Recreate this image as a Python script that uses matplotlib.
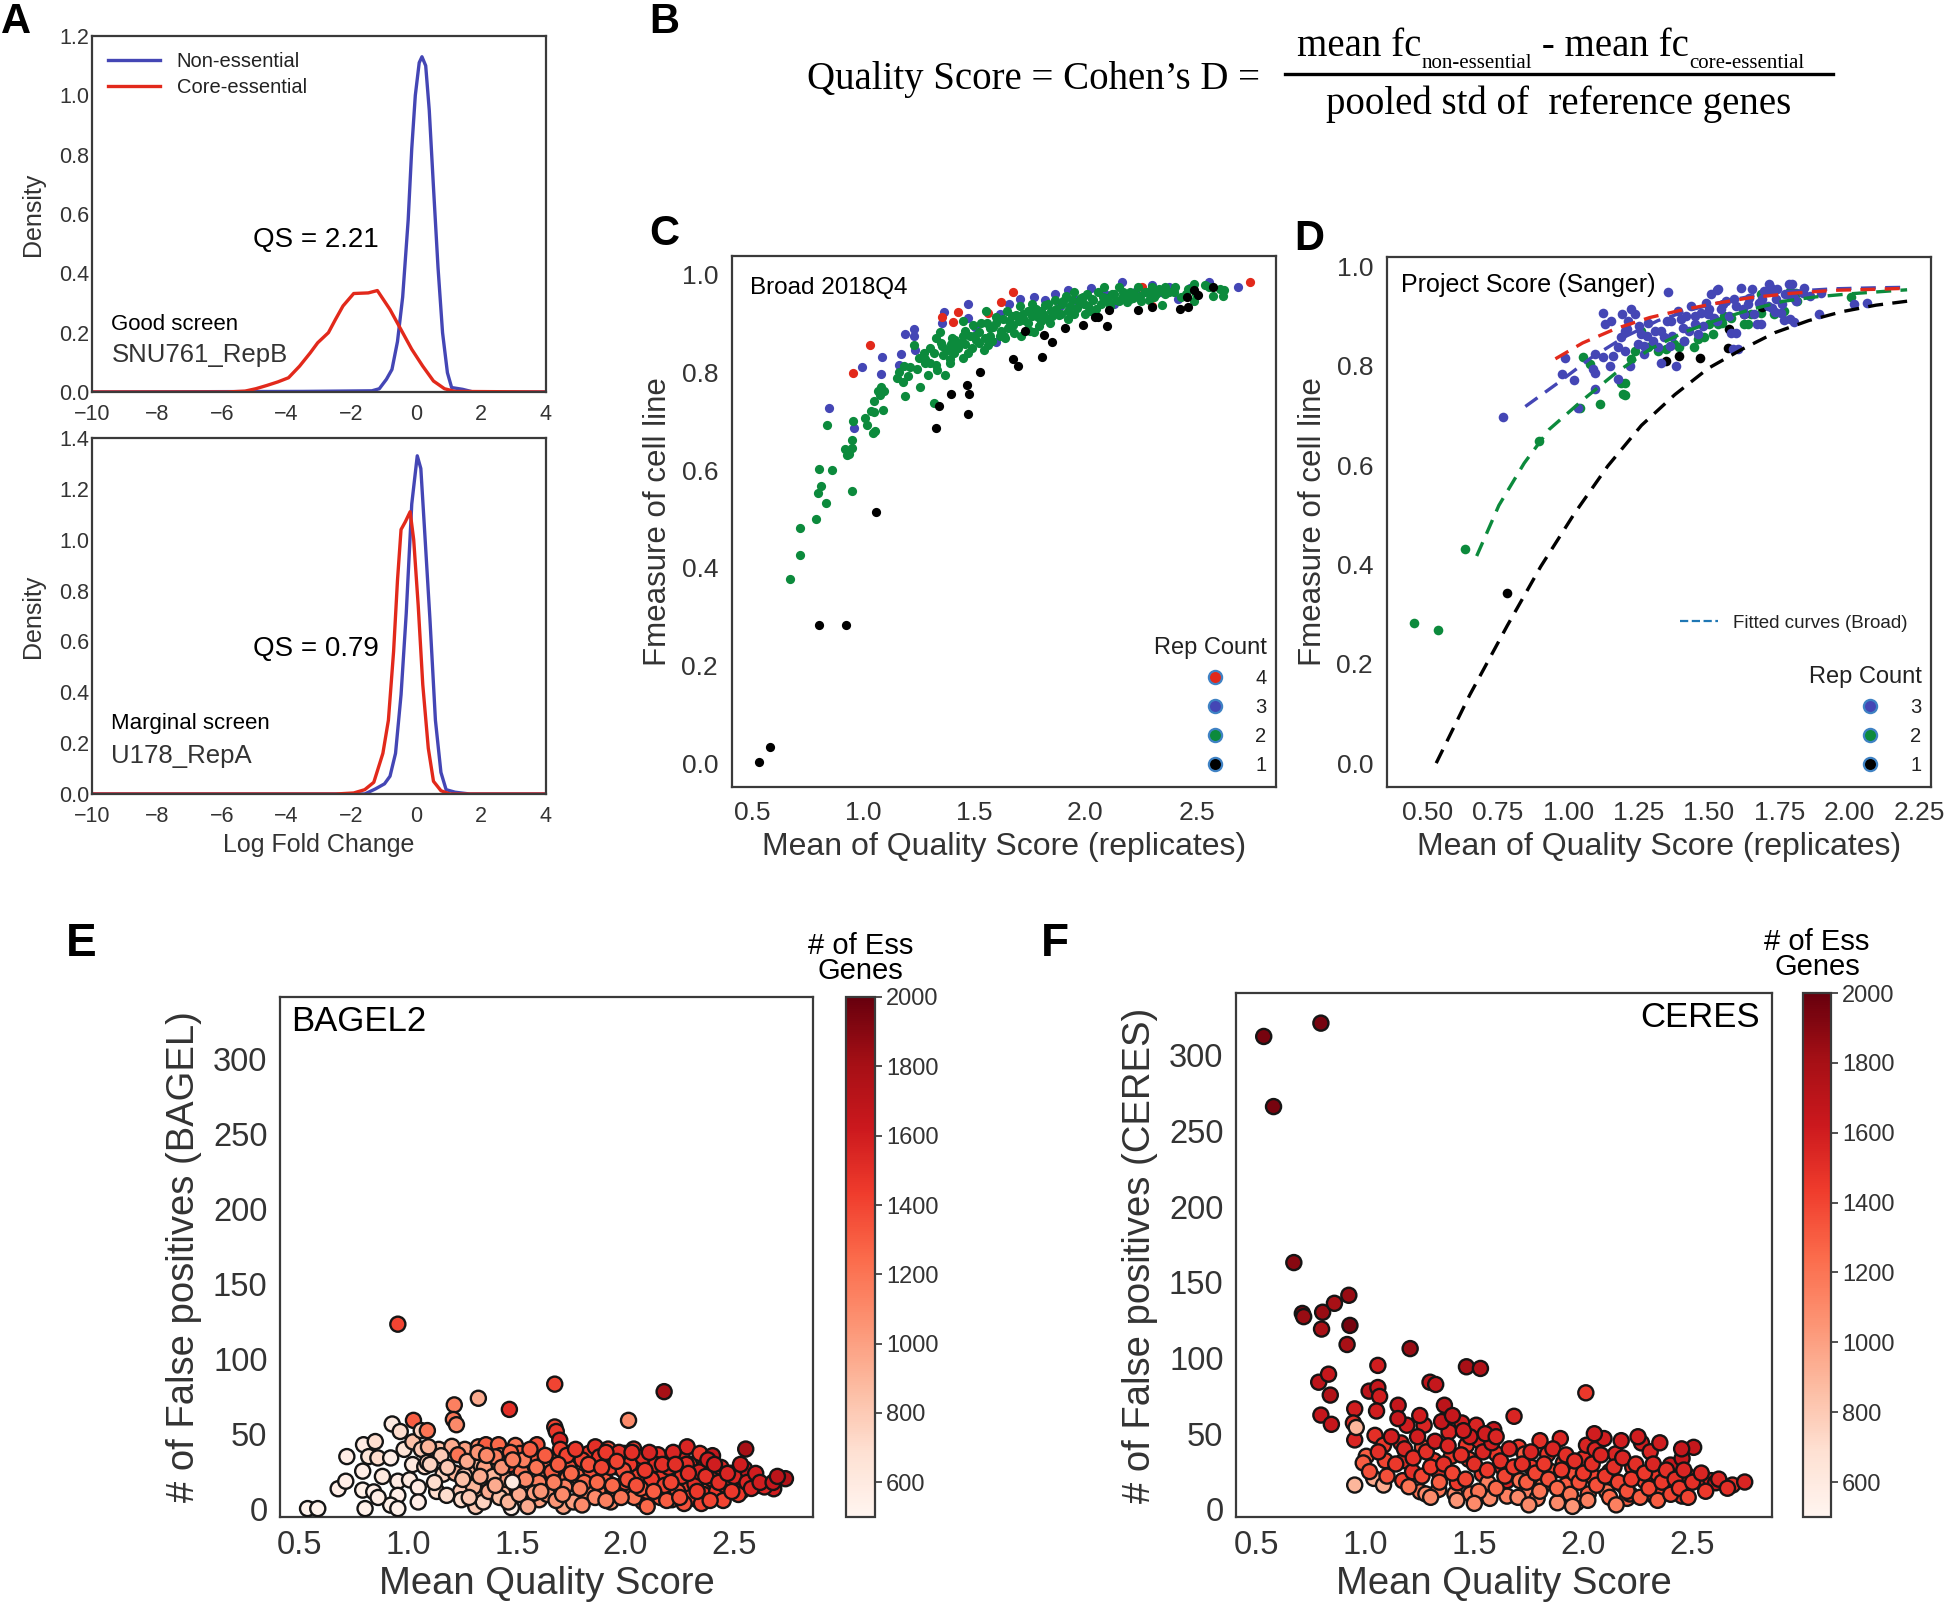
import matplotlib
matplotlib.use('Agg')
import matplotlib.pyplot as plt
from matplotlib.lines import Line2D
from matplotlib.colors import Normalize
import matplotlib.cm as cm

# ---------------- DATA ----------------
# Panel A: density curves
A1_blue_x = [-10, -3.5, -1.37, -1.14, -0.92, -0.75, -0.58, -0.42, -0.25, -0.14, -0.03, 0.09, 0.175, 0.29, 0.40, 0.53, 0.67, 0.81, 0.96, 1.09, 1.43, 1.76, 4]
A1_blue_y = [0, 0.002, 0.004, 0.011, 0.043, 0.076, 0.17, 0.32, 0.58, 0.82, 1.0, 1.11, 1.13, 1.10, 0.95, 0.69, 0.42, 0.2, 0.065, 0.015, 0.009, 0.0, 0]
A1_red_x = [-10, -5.84, -5.28, -4.95, -4.61, -4.27, -3.94, -3.60, -3.27, -3.04, -2.71, -2.49, -2.26, -1.93, -1.48, -1.20, -0.81, -0.47, -0.14, 0.20, 0.53, 0.87, 1.20, 4]
A1_red_y = [0, 0, 0.003, 0.011, 0.022, 0.034, 0.048, 0.087, 0.132, 0.166, 0.2, 0.245, 0.29, 0.332, 0.334, 0.342, 0.278, 0.21, 0.144, 0.087, 0.037, 0.011, 0.002, 0]
A2_blue_x = [-10, -1.59, -1.26, -0.98, -0.81, -0.64, -0.47, -0.31, -0.14, 0.03, 0.14, 0.25, 0.42, 0.59, 0.76, 0.92, 1.20, 1.65, 4]
A2_blue_y = [0, 0, 0.02, 0.04, 0.07, 0.16, 0.39, 0.71, 1.14, 1.33, 1.28, 1.05, 0.69, 0.29, 0.085, 0.017, 0.007, 0, 0]
A2_red_x = [-10, -2.49, -1.93, -1.59, -1.31, -1.03, -0.86, -0.70, -0.58, -0.47, -0.34, -0.19, -0.08, 0.06, 0.20, 0.37, 0.53, 0.76, 1.04, 4]
A2_red_y = [0, 0, 0.004, 0.017, 0.046, 0.16, 0.29, 0.56, 0.84, 1.04, 1.07, 1.11, 1.0, 0.74, 0.43, 0.18, 0.05, 0.013, 0, 0]

# Panel C: Broad 2018Q4 (x = mean QS, y = Fmeasure) by replicate count
C_rep4 = [(2.743, 0.984), (1.675, 0.965), (1.622, 0.944), (1.425, 0.923), (1.404, 0.902), (1.357, 0.914),
          (1.029, 0.857), (0.955, 0.799), (1.56, 0.922), (2.253, 0.974), (2.30, 0.935)]
C_rep3 = [(0.847, 0.728), (0.961, 0.687), (0.995, 0.812), (1.084, 0.832), (1.08, 0.797), (1.169, 0.838),
          (1.163, 0.816), (1.23, 0.888), (1.23, 0.875), (1.235, 0.845), (1.363, 0.923), (1.354, 0.901),
          (1.471, 0.94), (1.471, 0.912), (1.60, 0.863), (1.704, 0.951), (1.77, 0.954), (1.865, 0.961),
          (1.922, 0.968), (2.026, 0.973), (2.164, 0.984), (2.30, 0.978), (2.415, 0.95), (2.472, 0.972),
          (2.557, 0.984), (2.686, 0.974), (2.09, 0.961), (2.223, 0.965), (1.818, 0.948), (1.656, 0.94),
          (1.618, 0.92), (1.505, 0.892), (1.96, 0.948), (2.34, 0.965), (2.13, 0.94), (1.19, 0.879),
          (2.375, 0.974), (1.885, 0.935), (1.76, 0.926)]
C_rep2 = [(0.673, 0.378), (0.714, 0.427), (0.718, 0.481), (0.788, 0.50), (0.80, 0.603), (0.811, 0.568),
          (0.798, 0.554), (0.834, 0.532), (0.858, 0.60), (0.836, 0.692), (0.917, 0.644), (0.936, 0.633),
          (0.95, 0.646), (0.95, 0.661), (0.951, 0.557), (0.928, 0.63), (0.955, 0.70), (1.008, 0.707),
          (1.018, 0.693), (1.036, 0.721), (1.046, 0.676), (1.055, 0.68), (1.05, 0.719), (1.05, 0.742),
          (1.065, 0.762), (1.078, 0.754), (1.088, 0.724), (1.093, 0.761), (1.082, 0.771), (1.154, 0.788),
          (1.163, 0.801), (1.182, 0.814), (1.18, 0.78), (1.188, 0.751), (1.20, 0.793), (1.21, 0.81),
          (1.23, 0.855), (1.243, 0.806), (1.258, 0.771), (1.272, 0.84), (1.277, 0.827), (1.29, 0.795),
          (1.30, 0.819), (1.319, 0.737), (1.327, 0.87), (1.331, 0.804), (1.344, 0.883), (1.354, 0.853),
          (1.368, 0.794), (1.376, 0.845), (1.39, 0.827), (1.394, 0.858), (1.413, 0.866), (1.429, 0.849),
          (1.448, 0.875), (1.448, 0.905), (1.457, 0.858), (1.482, 0.875), (1.495, 0.896), (1.508, 0.866),
          (1.523, 0.883), (1.542, 0.845), (1.552, 0.926), (1.558, 0.901), (1.571, 0.875), (1.584, 0.892),
          (1.60, 0.914), (1.616, 0.875), (1.634, 0.875), (1.647, 0.926), (1.656, 0.905), (1.675, 0.896),
          (1.69, 0.918), (1.704, 0.935), (1.723, 0.907), (1.742, 0.926), (1.76, 0.94), (1.77, 0.883),
          (1.785, 0.914), (1.799, 0.926), (1.818, 0.937), (1.827, 0.91), (1.846, 0.926), (1.865, 0.948),
          (1.88, 0.918), (1.893, 0.94), (1.912, 0.957), (1.922, 0.926), (1.941, 0.948), (1.95, 0.965),
          (1.964, 0.931), (1.979, 0.952), (1.994, 0.94), (2.007, 0.961), (2.02, 0.926), (2.036, 0.948),
          (2.055, 0.965), (2.07, 0.94), (2.083, 0.974), (2.093, 0.952), (2.112, 0.935), (2.127, 0.961),
          (2.14, 0.948), (2.153, 0.974), (2.168, 0.957), (2.187, 0.944), (2.202, 0.965), (2.216, 0.952),
          (2.235, 0.974), (2.248, 0.957), (2.267, 0.965), (2.286, 0.948), (2.30, 0.974), (2.32, 0.961),
          (2.343, 0.937), (2.358, 0.974), (2.377, 0.965), (2.405, 0.974), (2.453, 0.961), (2.487, 0.98),
          (2.49, 0.946), (2.538, 0.979), (2.557, 0.974), (2.576, 0.957), (2.608, 0.971), (2.62, 0.957),
          (2.622, 0.969),
          (1.32, 0.84), (1.35, 0.86), (1.38, 0.845), (1.40, 0.87), (1.42, 0.85), (1.44, 0.86), (1.46, 0.885),
          (1.47, 0.84), (1.50, 0.875), (1.52, 0.86), (1.53, 0.90), (1.55, 0.87), (1.57, 0.89), (1.58, 0.865),
          (1.60, 0.90), (1.62, 0.885), (1.63, 0.91), (1.65, 0.89), (1.67, 0.915), (1.68, 0.88), (1.70, 0.905),
          (1.72, 0.92), (1.74, 0.90), (1.76, 0.915), (1.78, 0.93), (1.80, 0.905), (1.81, 0.92), (1.83, 0.94),
          (1.85, 0.915), (1.87, 0.93), (1.89, 0.92), (1.90, 0.945), (1.93, 0.935), (1.95, 0.92), (1.97, 0.945),
          (1.99, 0.955), (2.01, 0.935), (2.03, 0.95), (2.05, 0.93), (2.08, 0.955), (2.10, 0.945), (2.12, 0.96),
          (2.15, 0.945), (2.17, 0.965), (2.20, 0.95), (2.22, 0.96), (2.25, 0.945), (2.28, 0.965), (2.31, 0.955),
          (2.33, 0.97), (2.36, 0.96), (2.40, 0.965), (2.43, 0.955), (2.46, 0.97), (2.50, 0.96), (1.25, 0.83),
          (1.28, 0.82), (1.30, 0.85), (1.33, 0.815), (1.36, 0.835), (1.39, 0.82), (1.41, 0.84), (1.45, 0.83),
          (1.49, 0.85), (1.56, 0.855), (1.64, 0.87), (1.75, 0.885), (1.84, 0.90), (1.92, 0.91), (2.00, 0.92),
          (1.71, 0.875), (1.79, 0.895)]
C_rep1 = [(0.532, 0.004), (0.58, 0.033), (0.80, 0.283), (0.923, 0.283), (1.059, 0.514), (1.327, 0.687),
          (1.34, 0.732), (1.394, 0.756), (1.467, 0.775), (1.478, 0.756), (1.474, 0.714), (1.527, 0.80),
          (1.675, 0.828), (1.697, 0.813), (1.804, 0.832), (1.814, 0.877), (1.85, 0.863), (1.907, 0.89),
          (1.988, 0.896), (2.045, 0.914), (2.055, 0.913), (2.098, 0.894), (2.106, 0.927), (2.235, 0.928),
          (2.30, 0.934), (2.428, 0.93), (2.456, 0.954), (2.462, 0.933), (2.487, 0.968), (2.506, 0.959),
          (2.576, 0.974), (1.73, 0.885)]

# Panel D: Project Score (Sanger)
D_rep3 = [(0.767, 0.696), (0.989, 0.815), (0.977, 0.783), (1.021, 0.771), (1.095, 0.823), (1.095, 0.785),
          (1.089, 0.793), (1.148, 0.800), (1.122, 0.817), (1.095, 0.753), (1.036, 0.716), (1.178, 0.773),
          (1.13, 0.884), (1.124, 0.907), (1.177, 0.837), (1.189, 0.857), (1.20, 0.870), (1.212, 0.891),
          (1.224, 0.914), (1.238, 0.904), (1.248, 0.843), (1.26, 0.863), (1.269, 0.823), (1.283, 0.887),
          (1.301, 0.850), (1.319, 0.837), (1.328, 0.806), (1.342, 0.857), (1.354, 0.948), (1.366, 0.890),
          (1.384, 0.800), (1.39, 0.911), (1.407, 0.877), (1.419, 0.901), (1.437, 0.921), (1.449, 0.884),
          (1.46, 0.863), (1.472, 0.907), (1.49, 0.927), (1.507, 0.944), (1.519, 0.897), (1.531, 0.954),
          (1.542, 0.914), (1.56, 0.931), (1.578, 0.867), (1.584, 0.833), (1.596, 0.921), (1.613, 0.957),
          (1.625, 0.904), (1.643, 0.937), (1.654, 0.954), (1.672, 0.884), (1.678, 0.927), (1.696, 0.951),
          (1.713, 0.964), (1.725, 0.917), (1.743, 0.954), (1.755, 0.907), (1.772, 0.944), (1.784, 0.964),
          (1.79, 0.894), (1.802, 0.937), (1.893, 0.905), (2.016, 0.925), (2.064, 0.926), (1.84, 0.956),
          (1.796, 0.964), (1.721, 0.956), (1.766, 0.892), (1.833, 0.947), (1.90, 0.947), (1.803, 0.888),
          (1.684, 0.884), (1.736, 0.909), (1.602, 0.833), (1.597, 0.867), (1.498, 0.905), (1.528, 0.952),
          (1.25, 0.88), (1.28, 0.86), (1.31, 0.87), (1.35, 0.89), (1.37, 0.86), (1.40, 0.895), (1.43, 0.87),
          (1.45, 0.90), (1.48, 0.88), (1.50, 0.915), (1.53, 0.89), (1.55, 0.925), (1.57, 0.90), (1.59, 0.935),
          (1.62, 0.915), (1.64, 0.925), (1.66, 0.905), (1.69, 0.935), (1.71, 0.92), (1.74, 0.935), (1.76, 0.925),
          (1.78, 0.945), (1.81, 0.93), (1.86, 0.94), (1.16, 0.82), (1.20, 0.83), (1.22, 0.80), (1.27, 0.84),
          (1.33, 0.87), (1.36, 0.84), (1.41, 0.85), (1.15, 0.89), (1.19, 0.905), (1.21, 0.875)]
D_rep2 = [(0.451, 0.283), (0.537, 0.269), (0.634, 0.432), (0.896, 0.649), (1.042, 0.714), (1.111, 0.723),
          (1.053, 0.817), (1.077, 0.803), (1.187, 0.766), (1.193, 0.743), (1.224, 0.813), (1.236, 0.830),
          (1.26, 0.870), (1.283, 0.837), (1.319, 0.830), (1.348, 0.833), (1.377, 0.843), (1.395, 0.837),
          (1.413, 0.850), (1.448, 0.837), (1.46, 0.854), (1.483, 0.857), (1.501, 0.884), (1.531, 0.884),
          (1.548, 0.887), (1.578, 0.897), (1.625, 0.884), (1.649, 0.904), (1.684, 0.907), (1.731, 0.904),
          (1.766, 0.911), (1.79, 0.951), (1.684, 0.944), (1.554, 0.901), (1.513, 0.863), (1.813, 0.931),
          (1.203, 0.741), (1.20, 0.765), (1.64, 0.884), (1.543, 0.888), (2.004, 0.939), (1.81, 0.947)]
D_rep1 = [(0.783, 0.343), (1.349, 0.809), (1.394, 0.82), (1.468, 0.816), (1.568, 0.835), (1.572, 0.875),
          (1.625, 0.905), (1.69, 0.918)]
# fitted curves (Broad), one per replicate count
D_fit1_x = [0.53, 0.649, 0.783, 0.902, 1.021, 1.14, 1.26, 1.379, 1.498, 1.617, 1.736, 1.855, 1.974, 2.094, 2.205]
D_fit1_y = [0.0, 0.137, 0.277, 0.396, 0.502, 0.598, 0.68, 0.742, 0.795, 0.833, 0.867, 0.891, 0.909, 0.922, 0.93]
D_fit2_x = [0.674, 0.753, 0.843, 0.932, 1.051, 1.17, 1.289, 1.409, 1.528, 1.647, 1.766, 1.885, 2.004, 2.205]
D_fit2_y = [0.417, 0.519, 0.604, 0.672, 0.731, 0.786, 0.833, 0.867, 0.892, 0.913, 0.93, 0.939, 0.945, 0.953]
D_fit3_x = [0.847, 0.962, 1.081, 1.20, 1.319, 1.438, 1.558, 1.677, 1.796, 1.945, 2.094, 2.205]
D_fit3_y = [0.718, 0.765, 0.816, 0.858, 0.891, 0.913, 0.93, 0.943, 0.95, 0.955, 0.957, 0.958]
D_fit4_x = [0.954, 1.051, 1.17, 1.289, 1.409, 1.528, 1.647, 1.796, 1.945, 2.094, 2.205]
D_fit4_y = [0.814, 0.846, 0.875, 0.897, 0.913, 0.926, 0.937, 0.946, 0.952, 0.954, 0.956]

# Panel E: BAGEL2 (mean QS, false positives, # ess genes)
E_pts = [(0.535, 0.6, 520), (0.582, 0.6, 520), (0.676, 13.8, 560), (0.711, 18.8, 560), (0.716, 35.2, 560),
         (0.793, 43.1, 580), (0.789, 25.5, 560), (0.789, 12.9, 550), (0.80, 0.6, 540), (0.84, 11.7, 560),
         (0.847, 45.2, 700), (0.817, 35.2, 650), (0.859, 34.3, 700), (0.925, 56.9, 600), (0.962, 51.9, 700),
         (0.918, 34.3, 560), (0.951, 18.8, 580), (0.951, 9.4, 560), (0.918, 2.9, 540), (0.951, 0.6, 540),
         (0.88, 22, 600), (0.86, 8, 570), (0.98, 40, 650), (1.02, 45, 850), (1.06, 40, 800), (1.14, 40, 850),
         (1.13, 12, 700), (1.24, 12, 800), (1.29, 28, 900), (1.26, 40, 1000), (1.20, 42, 950), (1.31, 2, 800),
         (0.951, 123.3, 1400), (1.019, 29.9, 600), (1.023, 59.3, 1300), (1.005, 19.7, 600), (1.045, 14.7, 580),
         (1.045, 5.0, 560), (1.059, 52.5, 750), (1.087, 52.5, 1200), (1.075, 28.5, 700), (1.092, 41.7, 900),
         (1.087, 31.4, 800), (1.15, 35.8, 800), (1.16, 23.5, 750), (1.176, 9.4, 700), (1.211, 69.6, 1150),
         (1.207, 59.9, 1200), (1.221, 56.4, 1100), (1.228, 36.4, 1200), (1.216, 24.1, 900), (1.244, 6.5, 700),
         (1.258, 22.6, 800), (1.322, 74.0, 950), (1.322, 41.7, 1100), (1.333, 29.9, 900), (1.329, 19.7, 850),
         (1.338, 10.9, 900), (1.345, 5.0, 750), (1.357, 43.1, 1300), (1.38, 31.4, 1000), (1.415, 43.1, 1250),
         (1.423, 35.8, 1050), (1.427, 22.6, 950), (1.434, 10.9, 900), (1.465, 66.6, 1500), (1.469, 29.9, 1350),
         (1.474, 1.2, 560), (1.493, 42.6, 1200), (1.514, 37.3, 1300), (1.545, 27.0, 1100),
         (1.563, 12.9, 900), (1.573, 30.8, 1150), (1.592, 43.1, 1350), (1.603, 6.5, 1000), (1.627, 22.6, 1100),
         (1.65, 32.9, 1200), (1.674, 83.4, 1400), (1.674, 54.9, 1400), (1.681, 51.9, 1450), (1.697, 46.1, 1550),
         (1.685, 32.9, 1350), (1.697, 12.3, 1100), (1.714, 2.1, 1000), (1.732, 21.1, 1200), (1.756, 35.8, 1450),
         (1.775, 16.7, 1000), (1.791, 6.5, 1000), (1.831, 37.3, 1450), (1.85, 24.1, 1350), (1.861, 41.7, 1500),
         (1.873, 12.3, 1200), (1.897, 32.9, 1400), (1.908, 19.7, 1200), (1.92, 40.2, 1350), (1.932, 5.0, 1100),
         (1.955, 28.5, 1300), (1.979, 15.3, 1250), (1.995, 37.3, 1400), (2.014, 59.3, 1100), (2.009, 22.6, 1500),
         (2.026, 9.4, 1300), (2.049, 29.9, 1250), (2.038, 40.2, 1450), (2.08, 5.0, 1300), (2.096, 18.2, 1400),
         (2.12, 28.5, 1600), (2.15, 36.4, 1500), (2.167, 22.6, 1450), (2.178, 78.4, 1800), (2.183, 10.9, 1250),
         (2.214, 6.5, 1350), (2.225, 25.5, 1400), (2.26, 36.4, 1550), (2.284, 41.7, 1550), (2.272, 15.3, 1400),
         (2.296, 29.9, 1500), (2.319, 21.1, 1550), (2.331, 6.5, 1700), (2.343, 37.3, 1450), (2.366, 28.5, 1400),
         (2.39, 16.7, 1350), (2.401, 35.8, 1650), (2.425, 21.7, 1500), (2.448, 7.9, 1300), (2.484, 24.1, 1450),
         (2.535, 12.3, 1550), (2.549, 27.0, 1650), (2.554, 40.2, 1800), (2.601, 15.8, 1600), (2.683, 13.8, 1600),
         (2.737, 20.5, 1750),
         (1.30, 15, 900), (1.35, 28, 1000), (1.37, 12, 950), (1.40, 35, 1150), (1.42, 8, 850), (1.45, 20, 1000),
         (1.47, 38, 1250), (1.50, 15, 1050), (1.52, 25, 1200), (1.55, 8, 950), (1.57, 35, 1300), (1.60, 18, 1150),
         (1.62, 30, 1250), (1.64, 10, 1050), (1.66, 25, 1300), (1.70, 40, 1400), (1.72, 15, 1150), (1.74, 28, 1350),
         (1.76, 5, 1000), (1.78, 22, 1250), (1.80, 33, 1400), (1.82, 12, 1150), (1.84, 26, 1350), (1.86, 8, 1100),
         (1.88, 35, 1450), (1.90, 20, 1300), (1.93, 28, 1400), (1.95, 12, 1250), (1.97, 38, 1500), (2.00, 18, 1350),
         (2.02, 30, 1450), (2.04, 8, 1200), (2.06, 22, 1400), (2.08, 35, 1500), (2.10, 12, 1300), (2.12, 20, 1450),
         (2.14, 30, 1500), (2.16, 8, 1300), (2.18, 16, 1400), (2.20, 28, 1500), (2.22, 38, 1550), (2.24, 12, 1350),
         (2.26, 22, 1450), (2.28, 30, 1500), (2.30, 8, 1400), (2.32, 17, 1500), (2.34, 25, 1550), (2.36, 10, 1450),
         (2.38, 33, 1600), (2.40, 20, 1500), (2.42, 12, 1450), (2.44, 28, 1550), (2.46, 16, 1500), (2.50, 22, 1550),
         (2.52, 10, 1450), (2.56, 18, 1550), (2.60, 24, 1600), (2.64, 15, 1550), (1.25, 20, 850), (1.27, 32, 950),
         (1.18, 28, 800), (1.12, 18, 700), (1.10, 30, 750), (1.28, 8, 800), (1.32, 38, 1050), (1.39, 22, 900),
         (1.46, 5, 900), (1.53, 33, 1150), (1.58, 11, 1000), (1.68, 6, 1050), (1.73, 36, 1400), (1.81, 18, 1250),
         (1.91, 6, 1150), (1.99, 26, 1350), (2.07, 14, 1300), (2.19, 6, 1300), (2.27, 4, 1350), (2.35, 4, 1400),
         (2.45, 6, 1400),
         (1.33, 22, 950), (1.36, 36, 1100), (1.40, 16, 950), (1.43, 28, 1050), (1.48, 33, 1150), (1.51, 10, 950),
         (1.54, 20, 1100), (1.56, 40, 1300), (1.59, 28, 1200), (1.61, 12, 1050), (1.63, 36, 1300), (1.67, 18, 1150),
         (1.69, 30, 1300), (1.71, 10, 1100), (1.75, 24, 1250), (1.77, 40, 1450), (1.79, 14, 1150), (1.83, 30, 1350),
         (1.87, 18, 1250), (1.89, 28, 1400), (1.91, 38, 1450), (1.94, 16, 1250), (1.96, 32, 1400), (1.98, 8, 1200),
         (2.01, 20, 1350), (2.03, 38, 1500), (2.05, 16, 1350), (2.09, 26, 1450), (2.11, 38, 1550), (2.13, 12, 1300),
         (2.17, 30, 1500), (2.21, 18, 1400), (2.23, 30, 1500), (2.25, 8, 1350), (2.29, 24, 1500), (2.33, 12, 1450),
         (2.37, 22, 1500), (2.39, 6, 1400), (2.41, 30, 1600), (2.43, 18, 1500), (2.47, 24, 1550), (2.49, 12, 1450),
         (2.53, 30, 1600), (2.58, 14, 1550), (2.62, 18, 1600), (2.68, 18, 1650), (2.70, 22, 1700), (1.55, 2, 950),
         (1.80, 3, 1100), (2.10, 2, 1250), (1.479, 18.2, 600)]

# Panel F: CERES
F_pts = [(0.535, 312.3, 1950), (0.797, 321.1, 1950), (0.58, 266.0, 1950), (0.673, 163.0, 1900),
         (0.712, 129.4, 1950), (0.718, 127.3, 1850), (0.805, 130.2, 1850), (0.859, 136.1, 1800),
         (0.925, 141.4, 1850), (0.93, 121.5, 1950), (0.80, 119.1, 1800), (0.917, 108.9, 1800),
         (1.206, 106.2, 1850), (1.058, 95.1, 1600), (1.464, 94.2, 1800), (1.528, 93.1, 1750),
         (0.787, 84.0, 1700), (0.832, 89.3, 1650), (0.84, 75.5, 1750), (1.297, 84.0, 1700), (1.323, 82.5, 1650),
         (2.011, 77.0, 1450), (1.018, 78.1, 1700), (1.058, 80.5, 1650), (1.066, 74.6, 1600), (0.797, 62.3, 1650),
         (0.845, 56.2, 1650), (0.952, 66.4, 1600), (0.946, 57.1, 1500), (0.952, 45.9, 1550), (0.959, 54.1, 900),
         (0.952, 16.1, 900), (1.039, 20.5, 950), (1.084, 16.1, 950), (1.005, 35.1, 1300), (0.991, 30.7, 1300),
         (1.045, 48.9, 1500), (1.052, 65.0, 1600), (1.084, 42.4, 1450), (1.092, 32.2, 1400), (1.151, 68.8, 1650),
         (1.164, 43.9, 1550), (1.172, 19.0, 1400), (1.177, 32.2, 1500), (1.191, 55.6, 1600), (1.217, 24.9, 1500),
         (1.252, 11.7, 1200), (1.262, 41.0, 1350), (1.27, 55.6, 1550), (1.278, 10.2, 1100), (1.315, 32.2, 1450),
         (1.337, 13.2, 1200), (1.337, 24.9, 1500), (1.363, 68.8, 1700), (1.384, 51.2, 1550), (1.395, 35.1, 1450),
         (1.411, 10.2, 1100), (1.422, 17.6, 1450), (1.443, 57.1, 1600), (1.464, 42.4, 1450), (1.483, 10.2, 1200),
         (1.475, 33.1, 1400), (1.509, 55.6, 1550), (1.523, 45.4, 1550), (1.536, 23.4, 1450), (1.562, 17.6, 1150),
         (1.571, 7.3, 1100), (1.589, 52.7, 1650), (1.602, 36.6, 1450), (1.629, 27.8, 1500), (1.650, 8.8, 1150),
         (1.650, 19.0, 1550), (1.682, 61.5, 1550), (1.703, 41.0, 1450), (1.709, 19.0, 1200), (1.73, 36.6, 1300),
         (1.748, 10.2, 1150), (1.762, 27.8, 1450), (1.788, 7.3, 1150), (1.801, 45.4, 1500), (1.815, 16.1, 1150),
         (1.836, 36.6, 1450), (1.855, 24.9, 1350), (1.881, 4.4, 1100), (1.894, 46.8, 1550), (1.908, 30.7, 1400),
         (1.921, 16.1, 1300), (1.961, 23.4, 1350), (1.969, 4.4, 1100), (2.001, 33.7, 1500), (2.014, 42.4, 1550),
         (2.022, 10.2, 1300), (2.041, 22.0, 1400), (2.054, 39.5, 1550), (2.094, 46.8, 1600), (2.107, 11.7, 1200),
         (2.12, 24.9, 1500), (2.147, 36.6, 1550), (2.173, 45.4, 1600), (2.181, 16.1, 1400), (2.20, 7.3, 1300),
         (2.213, 10.2, 1450), (2.226, 27.8, 1500), (2.266, 43.9, 1600), (2.28, 19.0, 1400), (2.306, 38.1, 1550),
         (2.325, 8.8, 1500), (2.34, 23.4, 1450), (2.359, 10.2, 1400), (2.372, 19.0, 1500), (2.399, 29.3, 1650),
         (2.426, 13.2, 1450), (2.452, 33.7, 1650), (2.452, 8.8, 1450), (2.479, 22.0, 1500), (2.505, 41.0, 1650),
         (2.532, 20.5, 1550), (2.558, 16.1, 1500), (2.585, 19.0, 1600), (2.606, 17.6, 1650), (2.683, 16.1, 1500),
         (2.739, 18.1, 1550),
         (1.02, 25, 1350), (1.06, 38, 1500), (1.10, 22, 1350), (1.12, 48, 1600), (1.14, 30, 1450), (1.18, 40, 1550),
         (1.20, 15, 1200), (1.22, 34, 1500), (1.24, 48, 1600), (1.26, 22, 1400), (1.28, 38, 1500), (1.30, 28, 1450),
         (1.32, 45, 1600), (1.34, 18, 1300), (1.36, 30, 1500), (1.38, 42, 1550), (1.40, 24, 1400), (1.42, 6, 1050),
         (1.44, 36, 1500), (1.46, 20, 1400), (1.48, 48, 1600), (1.50, 30, 1500), (1.52, 12, 1200), (1.54, 38, 1550),
         (1.56, 26, 1450), (1.58, 44, 1600), (1.60, 14, 1250), (1.62, 32, 1500), (1.64, 22, 1400), (1.66, 40, 1550),
         (1.68, 28, 1450), (1.70, 8, 1100), (1.72, 30, 1500), (1.74, 18, 1300), (1.76, 38, 1550), (1.78, 24, 1400),
         (1.80, 12, 1200), (1.82, 30, 1450), (1.84, 20, 1350), (1.86, 40, 1550), (1.88, 14, 1250), (1.90, 26, 1450),
         (1.92, 36, 1500), (1.94, 10, 1200), (1.96, 32, 1500), (1.98, 18, 1350), (2.00, 24, 1450), (2.02, 6, 1150),
         (2.04, 30, 1500), (2.06, 16, 1350), (2.08, 36, 1550), (2.10, 22, 1450), (2.12, 8, 1250), (2.14, 28, 1500),
         (2.16, 18, 1400), (2.18, 34, 1550), (2.20, 12, 1350), (2.22, 20, 1450), (2.24, 30, 1500), (2.26, 8, 1300),
         (2.28, 24, 1450), (2.30, 14, 1400), (2.32, 30, 1550), (2.34, 6, 1300), (2.36, 18, 1450), (2.38, 26, 1500),
         (2.40, 10, 1400), (2.42, 20, 1500), (2.44, 14, 1450), (2.46, 26, 1550), (2.48, 8, 1400), (2.50, 18, 1500),
         (2.54, 24, 1550), (2.56, 12, 1450), (2.62, 20, 1550), (2.66, 14, 1500), (1.15, 60, 1650), (1.25, 62, 1600),
         (1.35, 58, 1650), (1.45, 52, 1600), (1.55, 50, 1600), (1.40, 62, 1650), (1.60, 48, 1550), (1.30, 8, 1100),
         (1.50, 4, 1100), (1.75, 3, 1100), (1.95, 2, 1050), (2.15, 3, 1150), (2.05, 50, 1600), (2.25, 48, 1600),
         (2.35, 44, 1600), (2.45, 40, 1650)]

A_xticks = [-10, -8, -6, -4, -2, 0, 2, 4]
C_xticks = [0.5, 1.0, 1.5, 2.0, 2.5]
D_xticks = [0.50, 0.75, 1.00, 1.25, 1.50, 1.75, 2.00, 2.25]
FR_yticks = [0, 50, 100, 150, 200, 250, 300]
CB_ticks = [600, 800, 1000, 1200, 1400, 1600, 1800, 2000]
rep_labels = ['4', '3', '2', '1']

# ---------------- STYLE ----------------
plt.rcParams['font.family'] = ['Liberation Sans', 'DejaVu Sans']
plt.rcParams['axes.edgecolor'] = '#3a3a3a'
plt.rcParams['axes.linewidth'] = 1.6
plt.rcParams['xtick.major.size'] = 0
plt.rcParams['ytick.major.size'] = 0
plt.rcParams['xtick.color'] = '#333333'
plt.rcParams['ytick.color'] = '#333333'
plt.rcParams['axes.labelcolor'] = '#333333'
plt.rcParams['text.color'] = '#222222'
plt.rcParams['axes.unicode_minus'] = True

BLUE = '#4446b5'
RED = '#e2291b'
GREEN = '#0c8a3c'
BLACK = '#000000'
REPCOL = {'4': RED, '3': BLUE, '2': GREEN, '1': BLACK}
SERIF = ['Liberation Serif', 'DejaVu Serif']
W, H = 1946, 1611

fig = plt.figure(figsize=(W / 100, H / 100), dpi=100)


def frac(left, top, right, bottom):
    return [left / W, 1 - bottom / H, (right - left) / W, (bottom - top) / H]


# ---------------- Panel A ----------------
def density_panel(rect, bx, by, rx, ry, ymax, yticks, qs, t1, t2, t1y, t2y, qsy, legend, xlabel):
    ax = fig.add_axes(rect)
    ax.plot(bx, by, color=BLUE, lw=2.4, label='Non-essential')
    ax.plot(rx, ry, color=RED, lw=2.4, label='Core-essential')
    ax.set_xlim(-10, 4)
    ax.set_ylim(0, ymax)
    ax.set_xticks(A_xticks)
    ax.set_yticks(yticks)
    ax.set_yticklabels(['%.1f' % v for v in yticks])
    ax.tick_params(axis='x', labelsize=15.5, pad=9)
    ax.tick_params(axis='y', labelsize=15.5, pad=2)
    ax.set_ylabel('Density', fontsize=18, labelpad=10)
    if xlabel:
        ax.set_xlabel('Log Fold Change', fontsize=18, labelpad=4)
    ax.text(-5.05, qsy, qs, fontsize=20, color='black', va='center')
    ax.text(-9.4, t1y, t1, fontsize=16, color='black', va='center')
    ax.text(-9.4, t2y, t2, fontsize=18.5, color='#333333', va='center')
    if legend:
        ax.legend(loc='upper left', frameon=False, fontsize=14.5, handlelength=2.6,
                  borderaxespad=0.4, labelspacing=0.35, bbox_to_anchor=(0.0, 1.0))
    return ax


density_panel(frac(92, 36, 546, 392), A1_blue_x, A1_blue_y, A1_red_x, A1_red_y, 1.2,
              [0, 0.2, 0.4, 0.6, 0.8, 1.0, 1.2], 'QS = 2.21', 'Good screen', 'SNU761_RepB',
              0.226, 0.125, 0.514, True, False)
density_panel(frac(92, 438, 546, 794), A2_blue_x, A2_blue_y, A2_red_x, A2_red_y, 1.4,
              [0, 0.2, 0.4, 0.6, 0.8, 1.0, 1.2, 1.4], 'QS = 0.79', 'Marginal screen', 'U178_RepA',
              0.278, 0.151, 0.571, False, True)


# ---------------- Panels C, D ----------------
def rep_handles(labels):
    return [Line2D([], [], marker='o', ls='', markersize=9.5, markerfacecolor=REPCOL[l],
                   markeredgecolor='#3f82c4', markeredgewidth=1.6, label=l) for l in labels]


def rep_legend(ax, labels):
    return ax.legend(handles=rep_handles(labels), title='Rep Count', loc='lower right', frameon=False,
                     fontsize=14.5, title_fontsize=17, handletextpad=1.5, labelspacing=0.5,
                     borderaxespad=0.2, handlelength=1.0, alignment='right', bbox_to_anchor=(1.005, 0.0))


axC = fig.add_axes(frac(732, 256, 1276, 787))
for lab, pts in [('3', C_rep3), ('4', C_rep4), ('2', C_rep2), ('1', C_rep1)]:
    axC.scatter([p[0] for p in pts], [p[1] for p in pts], s=44, color=REPCOL[lab], linewidths=0, zorder=3)
axC.set_xlim(0.41, 2.858)
axC.set_ylim(-0.048, 1.038)
axC.set_xticks(C_xticks)
axC.set_yticks([0, 0.2, 0.4, 0.6, 0.8, 1.0])
axC.set_yticklabels(['0.0', '0.2', '0.4', '0.6', '0.8', '1.0'])
axC.tick_params(labelsize=19, pad=10)
axC.set_xlabel('Mean of Quality Score (replicates)', fontsize=23, labelpad=5)
axC.set_ylabel('Fmeasure of cell line', fontsize=22.5, labelpad=6)
axC.text(0.034, 0.939, 'Broad 2018Q4', transform=axC.transAxes, fontsize=17.5, color='black', va='center')
rep_legend(axC, rep_labels)

axD = fig.add_axes(frac(1387, 257, 1931, 787))
for lab, pts in [('2', D_rep2), ('1', D_rep1), ('3', D_rep3)]:
    axD.scatter([p[0] for p in pts], [p[1] for p in pts], s=48, color=REPCOL[lab], linewidths=0, zorder=3)
for fx, fy, col in [(D_fit1_x, D_fit1_y, BLACK), (D_fit2_x, D_fit2_y, GREEN),
                    (D_fit3_x, D_fit3_y, BLUE), (D_fit4_x, D_fit4_y, RED)]:
    axD.plot(fx, fy, color=col, lw=2.4, ls=(0, (4.5, 2.8)), zorder=4)
axD.set_xlim(0.355, 2.29)
axD.set_ylim(-0.048, 1.019)
axD.set_xticks(D_xticks)
axD.set_xticklabels(['%.2f' % v for v in D_xticks])
axD.set_yticks([0, 0.2, 0.4, 0.6, 0.8, 1.0])
axD.set_yticklabels(['0.0', '0.2', '0.4', '0.6', '0.8', '1.0'])
axD.tick_params(labelsize=19, pad=10)
axD.set_xlabel('Mean of Quality Score (replicates)', fontsize=23, labelpad=5)
axD.set_ylabel('Fmeasure of cell line', fontsize=22.5, labelpad=6)
axD.text(0.025, 0.948, 'Project Score (Sanger)', transform=axD.transAxes, fontsize=18, color='black', va='center')
fitleg = axD.legend(handles=[Line2D([], [], color='#1f77b4', ls='--', lw=1.6, label='Fitted curves (Broad)')],
                    loc='center left', bbox_to_anchor=(0.525, 0.309), frameon=False, fontsize=13.5,
                    handlelength=2.0, handletextpad=0.8, borderaxespad=0)
axD.add_artist(fitleg)
rep_legend(axD, ['3', '2', '1'])

# ---------------- Panels E, F ----------------
norm = Normalize(vmin=500, vmax=2000)


def fp_panel(rect, crect, pts, ylabel, name, name_x, ha):
    ax = fig.add_axes(rect)
    ax.scatter([p[0] for p in pts], [p[1] for p in pts], c=[p[2] for p in pts], cmap='Reds', norm=norm,
               s=118, edgecolors='#151515', linewidths=1.7, zorder=3)
    ax.set_xlim(0.408, 2.864)
    ax.set_ylim(-5, 341)
    ax.set_xticks(C_xticks)
    ax.set_yticks(FR_yticks)
    ax.tick_params(labelsize=23.5, pad=9)
    ax.set_xlabel('Mean Quality Score', fontsize=27.5, labelpad=4)
    ax.set_ylabel(ylabel, fontsize=27.5, labelpad=8)
    ax.text(name_x, 0.953, name, transform=ax.transAxes, fontsize=25, color='black', va='center', ha=ha)
    cax = fig.add_axes(crect)
    cb = fig.colorbar(cm.ScalarMappable(norm=norm, cmap='Reds'), cax=cax, ticks=CB_ticks)
    cb.outline.set_edgecolor('#3a3a3a')
    cb.outline.set_linewidth(1.6)
    cax.tick_params(labelsize=17, length=5, width=1.2, color='#333333', pad=3)
    cax.set_title('# of Ess\nGenes', fontsize=21, linespacing=0.85, pad=13, color='black')
    return ax


fp_panel(frac(280, 997, 813, 1517), frac(846, 997, 875, 1517), E_pts,
         '# of False positives (BAGEL)', 'BAGEL2', 0.021, 'left')
fp_panel(frac(1236, 993, 1772, 1517), frac(1803, 993, 1831, 1517), F_pts,
         '# of False positives (CERES)', 'CERES', 0.977, 'right')

# ---------------- Panel B formula & panel letters ----------------
ax0 = fig.add_axes([0, 0, 1, 1])
ax0.set_axis_off()
ax0.patch.set_visible(False)
ax0.set_xlim(0, 1)
ax0.set_ylim(0, 1)
ax0.text(807 / W, 1 - 89 / H, 'Quality Score = Cohen\u2019s D =', fontsize=28, family=SERIF,
         va='baseline', ha='left', color='black')
t1 = ax0.text(1297 / W, 1 - 56 / H, 'mean fc', fontsize=28, family=SERIF, va='baseline', ha='left', color='black')
t2 = ax0.annotate('non-essential', xy=(1, 0.3), xycoords=t1, va='top', ha='left', fontsize=15,
                  family=SERIF, color='black')
t3 = ax0.annotate(' - mean fc', xy=(1, 0), xycoords=(t2, t1), va='bottom', ha='left', fontsize=28,
                  family=SERIF, color='black')
t4 = ax0.annotate('core-essential', xy=(1, 0.3), xycoords=(t3, t1), va='top', ha='left', fontsize=15,
                  family=SERIF, color='black')
ax0.plot([1285 / W, 1833 / W], [1 - 74 / H, 1 - 74 / H], color='black', lw=2.4)
ax0.text(1559 / W, 1 - 114 / H, 'pooled std of  reference genes', fontsize=28, family=SERIF,
         va='baseline', ha='center', color='black')

for letter, x, y, fs in [('A', 1, 2, 30), ('B', 649, 2, 30), ('C', 649, 214, 30), ('D', 1294, 219, 30),
                         ('E', 66, 922, 33), ('F', 1041, 922, 33)]:
    ax0.text(x / W, 1 - y / H, letter, fontsize=fs, fontweight='bold', va='top', ha='left', color='black')

fig.savefig('out.png', dpi=100)
